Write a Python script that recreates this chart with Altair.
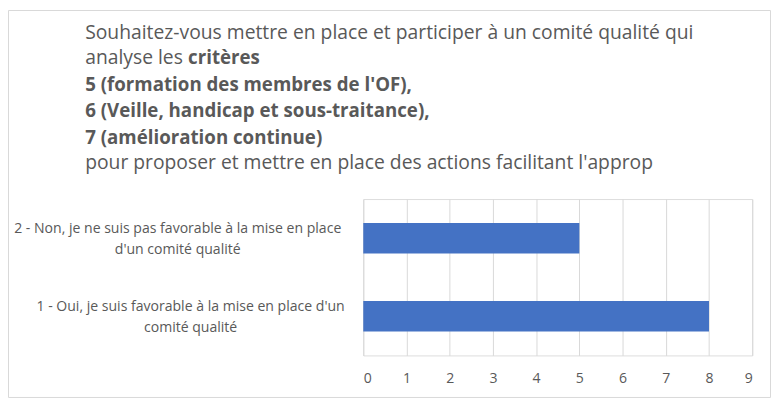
import altair as alt
import pandas as pd

# ---- data ----
categories = [
    "2 - Non, je ne suis pas favorable à la mise en place\nd'un comité qualité",
    "1 - Oui, je suis favorable à la mise en place d'un\ncomité qualité",
]
values = [5, 8]
x_ticks = [0, 1, 2, 3, 4, 5, 6, 7, 8, 9]

title_line1 = "Souhaitez-vous mettre en place et participer à un comité qualité qui"
title_line2a = "analyse les"
title_line2b = "critères"
title_bold_lines = [
    "5 (formation des membres de l'OF),",
    "6 (Veille, handicap et sous-traitance),",
    "7 (amélioration continue)",
]
title_line6 = "pour proposer et mettre en place des actions facilitant l'approp"

df = pd.DataFrame({"categorie": categories, "valeur": values})

FONT = "Open Sans"
GREY = "#595959"
TSIZE = 19.5
BSIZE = 18.9
LSIZE = 14.2

bars = alt.Chart(df).mark_bar(color="#4472C4").encode(
    x=alt.X(
        "valeur:Q",
        scale=alt.Scale(domain=[0, 9], nice=False),
        axis=alt.Axis(
            values=x_ticks,
            title=None,
            domain=False,
            ticks=False,
            grid=True,
            gridColor="#d9d9d9",
            gridWidth=1,
            labelFont=FONT,
            labelFontSize=LSIZE,
            labelColor=GREY,
            labelPadding=16,
        ),
    ),
    y=alt.Y(
        "categorie:N",
        sort=categories,
        scale=alt.Scale(paddingInner=0.61, paddingOuter=0.305),
        axis=alt.Axis(
            title=None,
            domain=False,
            ticks=False,
            grid=False,
            labelExpr="split(datum.label, '\\n')",
            labelAlign="center",
            labelBaseline="middle",
            labelLineHeight=21,
            labelOffset=-9,
            labelPadding={
                "condition": {"test": "indexof(datum.value, '1 -') == 0", "value": 175},
                "value": 188,
            },
            labelLimit=0,
            labelFont=FONT,
            labelFontSize=LSIZE,
            labelColor=GREY,
        ),
    ),
)

def txt(text, x, y, bold=False):
    return alt.Chart(alt.Data(values=[{}])).mark_text(
        align="left", baseline="middle", font=FONT,
        fontSize=BSIZE if bold else TSIZE,
        color=GREY, fontWeight="bold" if bold else "normal",
    ).encode(x=alt.value(x), y=alt.value(y), text=alt.value(text))

TX = -281
t1 = txt(title_line1, TX, -168)
t2a = txt(title_line2a, TX, -142)
t2b = txt(title_line2b, TX + 104, -142, bold=True)
t3 = txt(title_bold_lines[0], TX, -115, bold=True)
t4 = txt(title_bold_lines[1], TX, -89, bold=True)
t5 = txt(title_bold_lines[2], TX, -62, bold=True)
t6 = txt(title_line6, TX, -36)

border = alt.Chart(alt.Data(values=[{}])).mark_rect(
    fill="transparent", stroke="#d9d9d9", strokeWidth=1
).encode(
    x=alt.value(-358.5), x2=alt.value(411.5),
    y=alt.value(-190.5), y2=alt.value(200.5),
)

chart = alt.layer(border, bars, t1, t2a, t2b, t3, t4, t5, t6).properties(
    width=393,
    height=158,
    autosize=alt.AutoSizeParams(type="none"),
    padding={"left": 359, "top": 191, "right": 20, "bottom": 44},
).configure_view(stroke=None).configure(background="white")

chart.save("out.html", embed_options={"renderer": "svg", "actions": False})
